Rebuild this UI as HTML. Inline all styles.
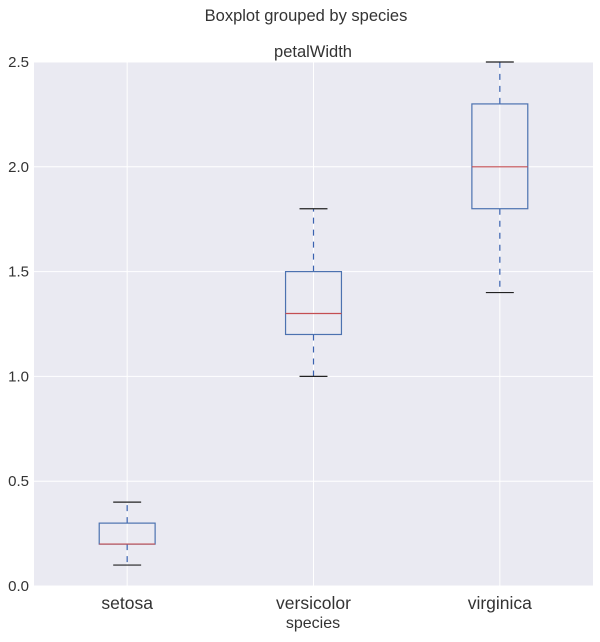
<!DOCTYPE html>
<html><head><meta charset="utf-8"><style>
body{margin:0;background:#fff;font-family:"Liberation Sans",sans-serif}
</style></head><body>
<svg id="chart" width="600" height="637" xmlns="http://www.w3.org/2000/svg" font-family="Liberation Sans, sans-serif"></svg>
<script>
const categories=["setosa","versicolor","virginica"];
const whiskerLow=[0.1,1.0,1.4];
const q1=[0.2,1.2,1.8];
const median=[0.2,1.3,2.0];
const q3=[0.3,1.5,2.3];
const whiskerHigh=[0.4,1.8,2.5];
const yTicks=[0,0.5,1.0,1.5,2.0,2.5];
const yTickLabels=["0.0","0.5","1.0","1.5","2.0","2.5"];

const L=34,R=593,T=62,B=586;
const y=v=>B-(v/2.5)*(B-T);
const x=i=>L+(i+0.5)*(R-L)/categories.length;
const unit=(R-L)/categories.length;
const svg=document.getElementById('chart');
const NS="http://www.w3.org/2000/svg";
function mk(tag,attrs,name,txt){const e=document.createElementNS(NS,tag);for(const k in attrs)e.setAttribute(k,attrs[k]);


if(txt!==undefined)e.textContent=txt;svg.appendChild(e);return e;}
mk('rect',{x:L,y:T,width:R-L,height:B-T,fill:'#eaeaf2'},'plot-background');
yTicks.forEach((t,i)=>{
 mk('line',{x1:L,x2:R,y1:y(t),y2:y(t),stroke:'#fff','stroke-width':1},'y-gridline');
 mk('text',{x:L-5,y:y(t)+5,'text-anchor':'end','font-size':15,fill:'#333'},'y-tick-label',yTickLabels[i]);
});
categories.forEach((c,i)=>{
 mk('line',{x1:x(i),x2:x(i),y1:T,y2:B,stroke:'#fff','stroke-width':1},'x-gridline');
 mk('text',{x:x(i),y:609,'text-anchor':'middle','font-size':17.5,fill:'#333'},'x-tick-label',c);
});
categories.forEach((c,i)=>{
 const cx=x(i),bw=unit*0.3,cw=unit*0.15;
 mk('line',{x1:cx,x2:cx,y1:y(q3[i]),y2:y(whiskerHigh[i]),stroke:'#3a62b0','stroke-width':1.2,'stroke-dasharray':'6,6'},'whisker-high-'+c);
 mk('line',{x1:cx,x2:cx,y1:y(q1[i]),y2:y(whiskerLow[i]),stroke:'#3a62b0','stroke-width':1.2,'stroke-dasharray':'6,6'},'whisker-low-'+c);
 mk('line',{x1:cx-cw/2,x2:cx+cw/2,y1:y(whiskerHigh[i]),y2:y(whiskerHigh[i]),stroke:'#222','stroke-width':1.2},'cap-high-'+c);
 mk('line',{x1:cx-cw/2,x2:cx+cw/2,y1:y(whiskerLow[i]),y2:y(whiskerLow[i]),stroke:'#222','stroke-width':1.2},'cap-low-'+c);
 mk('rect',{x:cx-bw/2,y:y(q3[i]),width:bw,height:y(q1[i])-y(q3[i]),fill:'none',stroke:'#4c72b0','stroke-width':1.2},'box-'+c);
 mk('line',{x1:cx-bw/2,x2:cx+bw/2,y1:y(median[i]),y2:y(median[i]),stroke:'#c44e52','stroke-width':1.2},'median-'+c);
});
mk('text',{x:306,y:21,'text-anchor':'middle','font-size':16.5,fill:'#333'},'figure-title','Boxplot grouped by species');
mk('text',{x:313,y:57,'text-anchor':'middle','font-size':16.5,fill:'#333'},'subplot-title','petalWidth');
mk('text',{x:313,y:628,'text-anchor':'middle','font-size':16,fill:'#333'},'x-axis-title','species');
</script>
</body></html>
